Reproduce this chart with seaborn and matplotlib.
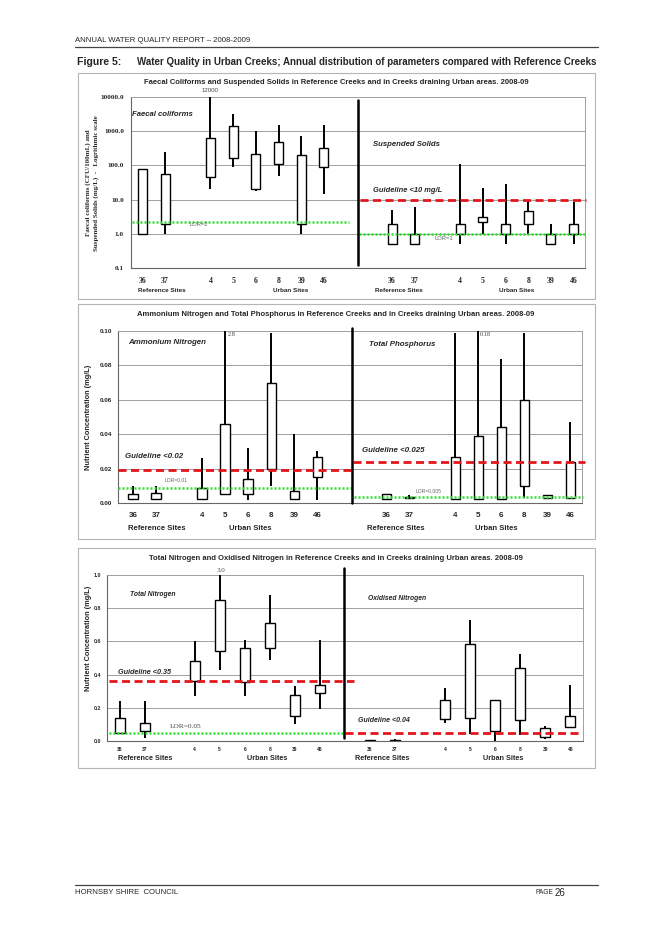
#!/usr/bin/env python3
"""Figure 5: annual distribution of water quality parameters, urban vs reference creeks 2008-09."""

import matplotlib
matplotlib.use("Agg")
import matplotlib.pyplot as plt
import numpy as np
import seaborn as sns
from matplotlib.patches import Rectangle
from matplotlib.lines import Line2D

W, H = 659, 931

SITES = ["36", "37", "4", "5", "6", "8", "39", "46"]
GROUPS = ["Reference Sites", "Urban Sites"]

# each parameter: whisker low, box bottom, box top, whisker high (per site)
FC_LOW = [1.0, 1.0, 20, 90, 18, 50, 1.0, 15]
FC_Q1 = [1.0, 2.0, 46, 170, 20, 110, 2.0, 92]
FC_Q3 = [80, 55, 620, 1400, 215, 490, 205, 330]
FC_HIGH = [80, 250, 12000, 3200, 1000, 1550, 720, 1550]

SS_LOW = [0.5, 0.5, 0.5, 1.0, 0.5, 1.0, 0.5, 0.5]
SS_Q1 = [0.5, 0.5, 1.0, 2.2, 1.0, 2.0, 0.5, 1.0]
SS_Q3 = [2.0, 1.0, 2.0, 3.0, 2.0, 4.8, 1.0, 2.0]
SS_HIGH = [5.0, 6.0, 110, 22, 28, 10, 2.0, 8.5]

NH_LOW = [0.0025, 0.0025, 0.0025, 0.005, 0.002, 0.010, 0.0025, 0.002]
NH_Q1 = [0.0025, 0.0025, 0.0025, 0.005, 0.005, 0.020, 0.0025, 0.015]
NH_Q3 = [0.005, 0.006, 0.009, 0.046, 0.014, 0.070, 0.0072, 0.027]
NH_HIGH = [0.010, 0.010, 0.026, 2.8, 0.032, 0.099, 0.040, 0.030]

TP_LOW = [0.0025, 0.003, 0.0025, 0.0025, 0.0025, 0.003, 0.003, 0.003]
TP_Q1 = [0.0025, 0.003, 0.0025, 0.0025, 0.0025, 0.010, 0.003, 0.003]
TP_Q3 = [0.005, 0.0035, 0.027, 0.039, 0.044, 0.060, 0.0045, 0.024]
TP_HIGH = [0.005, 0.0045, 0.099, 0.18, 0.084, 0.099, 0.0045, 0.047]

TN_LOW = [0.05, 0.02, 0.27, 0.43, 0.27, 0.49, 0.10, 0.19]
TN_Q1 = [0.05, 0.06, 0.36, 0.54, 0.355, 0.56, 0.15, 0.29]
TN_Q3 = [0.14, 0.11, 0.48, 0.85, 0.56, 0.71, 0.28, 0.34]
TN_HIGH = [0.24, 0.24, 0.60, 3.0, 0.61, 0.88, 0.33, 0.61]

NOX_LOW = [0.002, 0.002, 0.11, 0.04, 0.0, 0.035, 0.012, 0.08]
NOX_Q1 = [0.002, 0.002, 0.13, 0.14, 0.058, 0.124, 0.026, 0.086]
NOX_Q3 = [0.006, 0.005, 0.25, 0.586, 0.245, 0.438, 0.080, 0.151]
NOX_HIGH = [0.006, 0.012, 0.32, 0.73, 0.245, 0.524, 0.09, 0.34]

# guideline / LOR levels as drawn
FC_LOR = 2.2
SS_GUIDE, SS_LOR = 10.0, 1.0
NH_GUIDE, NH_LOR = 0.019, 0.009
TP_GUIDE, TP_LOR = 0.024, 0.0035
TN_GUIDE, TN_LOR = 0.36, 0.05
NOX_GUIDE = 0.05

LEFT_SLOTS = [0, 1, 3, 4, 5, 6, 7, 8]

SANS = ["Liberation Sans", "DejaVu Sans"]
SERIF = ["Liberation Serif", "DejaVu Serif"]
RED = "#e3161d"
GREEN = "#2fe02f"
GRID = "#a0a0a0"


def px_rect(left, top, right, bottom):
    return [left / W, 1 - bottom / H, (right - left) / W, (bottom - top) / H]


def put(fig, x, y, s, **kw):
    kw.setdefault("va", "center")
    fig.text(x / W, 1 - y / H, s, **kw)


def draw_boxes(ax, pos, low, q1, q3, high):
    ax.vlines(pos, low, high, colors="black", linewidth=1.4, zorder=3)
    ax.bar(pos, np.subtract(q3, q1), bottom=q1, width=0.4, color="white",
           edgecolor="black", linewidth=1.0, zorder=4)


def guide(ax, y, x0, x1, red=True):
    if red:
        ax.hlines(y, x0, x1, colors=RED, linewidth=2.0, linestyles=(0, (2.9, 1.6)),
                  zorder=6, clip_on=False)
    else:
        ax.hlines(y, x0, x1, colors=GREEN, linewidth=1.8, linestyles=(0, (0.8, 0.8)),
                  zorder=6, clip_on=False)


def setup_axes(ax, nslots, xlim, right_off, tick_font, tick_size, tick_pad):
    labels = [""] * nslots
    for s, lab in zip(LEFT_SLOTS, SITES):
        labels[s] = lab
        labels[s + right_off] = lab
    ax.set_xlim(xlim)
    ax.set_xticks(range(nslots))
    ax.set_xticklabels(labels, fontfamily=tick_font, fontsize=tick_size, fontweight="bold")
    ax.set_xticks(np.arange(nslots + 1) - 0.5, minor=True)
    ax.tick_params(axis="x", which="major", length=0, pad=tick_pad)
    ax.tick_params(axis="x", which="minor", length=2.5, width=0.6, color="#555555",
                   direction="out")
    ax.grid(False)
    ax.yaxis.grid(True, color=GRID, linewidth=0.7)
    ax.set_axisbelow(True)
    for side in ("top", "right"):
        ax.spines[side].set_color(GRID)
        ax.spines[side].set_linewidth(0.7)
    for side in ("left", "bottom"):
        ax.spines[side].set_color("#666666")
        ax.spines[side].set_linewidth(0.8)


def group_labels(ax, xs, offset_px, size):
    for x, lab in zip(xs, GROUPS + GROUPS):
        ax.annotate(lab, xy=(x, 0), xycoords=ax.get_xaxis_transform(),
                    xytext=(0, -offset_px * 0.72), textcoords="offset points",
                    ha="center", va="center", fontsize=size, fontweight="bold",
                    fontfamily=SANS)


def main():
    sns.set_theme(style="white")
    plt.rcParams["font.family"] = SANS
    fig = plt.figure(figsize=(W / 100, H / 100), dpi=100)
    fig.patch.set_facecolor("white")

    # page furniture
    put(fig, 75, 40, "ANNUAL WATER QUALITY REPORT \u2013 2008-2009", fontsize=5.6)
    fig.add_artist(Line2D([75 / W, 598 / W], [1 - 47 / H] * 2, color="#444444", lw=0.9))
    put(fig, 77, 62, "Figure 5:", fontsize=7.6, fontweight="bold")
    put(fig, 596, 62, "Water Quality in Urban Creeks; Annual distribution of parameters "
        "compared with Reference Creeks", fontsize=7.0, fontweight="bold", ha="right")
    fig.add_artist(Line2D([75 / W, 598 / W], [1 - 885 / H] * 2, color="#444444", lw=0.9))
    put(fig, 75, 893, "HORNSBY SHIRE  COUNCIL", fontsize=5.6)
    put(fig, 535, 893, "PAGE", fontsize=4.8)
    put(fig, 555, 893, "26", fontsize=7.0)

    for top, bottom in ((73, 299), (304, 539), (548, 768)):
        fig.add_artist(Rectangle((78 / W, 1 - bottom / H), (595 - 78) / W,
                                 (bottom - top) / H, transform=fig.transFigure,
                                 fill=False, edgecolor="#b5b5b5", linewidth=0.8))

    # ---------------- panel 1: faecal coliforms / suspended solids ----------------
    put(fig, 336, 82, "Faecal Coliforms and Suspended Solids in Reference Creeks and in "
        "Creeks draining Urban areas. 2008-09", fontsize=5.5, fontweight="bold", ha="center")
    ax = fig.add_axes(px_rect(131, 97, 585, 268))
    ax.set_yscale("log")
    ax.set_ylim(0.1, 10000)
    setup_axes(ax, 20, (-0.45, 19.5), 11, SERIF, 5.6, 6.5)
    dec = [0.1, 1, 10, 100, 1000, 10000]
    ax.set_yticks(dec)
    ax.set_yticklabels([f"{v:.1f}" for v in dec], fontfamily=SERIF, fontweight="bold",
                       fontsize=5.2)
    ax.yaxis.set_minor_locator(matplotlib.ticker.NullLocator())
    ax.tick_params(axis="y", length=2, pad=3)
    draw_boxes(ax, LEFT_SLOTS, FC_LOW, FC_Q1, FC_Q3, FC_HIGH)
    draw_boxes(ax, [s + 11 for s in LEFT_SLOTS], SS_LOW, SS_Q1, SS_Q3, SS_HIGH)
    guide(ax, FC_LOR, -0.45, 9.1, red=False)
    guide(ax, SS_LOR, 9.55, 19.5, red=False)
    guide(ax, SS_GUIDE, 9.6, 19.55)
    ax.axvline(9.5, 0.02, 0.98, color="black", lw=1.8, zorder=7)
    group_labels(ax, [0.88, 6.55, 11.3, 16.5], 23, 4.6)
    put(fig, 132, 114, "Faecal coliforms", fontsize=5.6, fontweight="bold", style="italic")
    put(fig, 373, 144, "Suspended Solids", fontsize=5.6, fontweight="bold", style="italic")
    put(fig, 373, 191, "Guideline <10 mg/L", fontsize=5.4, fontweight="bold", style="italic")
    put(fig, 190, 225, "LOR=2", fontsize=4.2, color="#666666")
    put(fig, 434, 238, "LOR=1", fontsize=4.2, color="#666666")
    put(fig, 210, 90, "12000", fontsize=4.4, color="#444444", ha="center")
    put(fig, 92, 183, "Faecal coliforms (CFU/100mL) and\nSuspended Solids (mg/L)  -   "
        "Logrithmic scale", fontsize=5.0, fontweight="bold", fontfamily=SERIF,
        rotation=90, ha="center", linespacing=1.4)

    # ---------------- panel 2: ammonium nitrogen / total phosphorus ----------------
    put(fig, 336, 314, "Ammonium Nitrogen and Total Phosphorus in Reference Creeks and in "
        "Creeks draining Urban areas. 2008-09", fontsize=5.5, fontweight="bold", ha="center")
    ax = fig.add_axes(px_rect(118, 331, 582, 503))
    ax.set_ylim(0, 0.10)
    setup_axes(ax, 20, (-0.65, 19.5), 11, SANS, 5.8, 6.5)
    yt = [0.0, 0.02, 0.04, 0.06, 0.08, 0.10]
    ax.set_yticks(yt)
    ax.set_yticklabels([f"{v:.2f}" for v in yt], fontweight="bold", fontsize=4.6)
    ax.tick_params(axis="y", length=0, pad=4)
    draw_boxes(ax, LEFT_SLOTS, NH_LOW, NH_Q1, NH_Q3, NH_HIGH)
    draw_boxes(ax, [s + 11 for s in LEFT_SLOTS], TP_LOW, TP_Q1, TP_Q3, TP_HIGH)
    guide(ax, NH_LOR, -0.65, 9.6, red=False)
    guide(ax, TP_LOR, 9.6, 19.55, red=False)
    guide(ax, NH_GUIDE, -0.65, 9.65)
    guide(ax, TP_GUIDE, 9.55, 19.65)
    ax.axvline(9.5, 0.0, 1.02, color="black", lw=1.8, zorder=7, clip_on=False)
    group_labels(ax, [1.04, 5.1, 11.4, 15.8], 26, 5.5)
    put(fig, 128, 342, "Ammonium Nitrogen", fontsize=5.7, fontweight="bold", style="italic")
    put(fig, 369, 345, "Total Phosphorus", fontsize=5.7, fontweight="bold", style="italic")
    put(fig, 125, 457, "Guideline <0.02", fontsize=5.7, fontweight="bold", style="italic")
    put(fig, 362, 450, "Guideline <0.025", fontsize=5.7, fontweight="bold", style="italic")
    put(fig, 165, 480, "LOR=0.01", fontsize=3.6, color="#666666")
    put(fig, 416, 491, "LOR=0.005", fontsize=3.6, color="#666666")
    put(fig, 228, 335, "2.8", fontsize=4.6, fontfamily=SERIF, color="#444444")
    put(fig, 480, 335, "0.18", fontsize=4.6, fontfamily=SERIF, color="#444444")
    put(fig, 88, 417, "Nutrient Concentration (mg/L)", fontsize=5.3, fontweight="bold",
        rotation=90, ha="center")

    # ---------------- panel 3: total nitrogen / oxidised nitrogen ----------------
    put(fig, 336, 558, "Total Nitrogen and Oxidised Nitrogen in Reference Creeks and in "
        "Creeks draining Urban areas. 2008-09", fontsize=5.5, fontweight="bold", ha="center")
    ax = fig.add_axes(px_rect(107, 575, 583, 741))
    ax.set_ylim(0, 1.0)
    setup_axes(ax, 19, (-0.44, 18.5), 10, SANS, 3.6, 4)
    yt = [0.0, 0.2, 0.4, 0.6, 0.8, 1.0]
    ax.set_yticks(yt)
    ax.set_yticklabels([f"{v:.1f}" for v in yt], fontweight="bold", fontsize=3.8)
    ax.tick_params(axis="y", length=0, pad=4)
    draw_boxes(ax, LEFT_SLOTS, TN_LOW, TN_Q1, TN_Q3, TN_HIGH)
    draw_boxes(ax, [s + 10 for s in LEFT_SLOTS], NOX_LOW, NOX_Q1, NOX_Q3, NOX_HIGH)
    guide(ax, TN_LOR, -0.44, 8.95, red=False)
    guide(ax, TN_GUIDE, -0.44, 9.35)
    guide(ax, NOX_GUIDE, 9.0, 18.4)
    ax.axvline(8.96, 0.02, 1.04, color="black", lw=1.8, zorder=7, clip_on=False)
    group_labels(ax, [1.04, 5.9, 10.5, 15.3], 18, 5.2)
    put(fig, 130, 594, "Total Nitrogen", fontsize=4.9, fontweight="bold", style="italic")
    put(fig, 368, 599, "Oxidised Nitrogen", fontsize=4.9, fontweight="bold", style="italic")
    put(fig, 118, 672, "Guideline <0.35", fontsize=5.2, fontweight="bold", style="italic")
    put(fig, 358, 720, "Guideline <0.04", fontsize=5.0, fontweight="bold", style="italic")
    put(fig, 170, 727, "LOR=0.05", fontsize=5.3, fontfamily=SERIF, color="#444444")
    put(fig, 221, 570, "3.0", fontsize=5.0, fontfamily=SERIF, color="#444444",
        ha="center")
    put(fig, 88, 638, "Nutrient Concentration (mg/L)", fontsize=5.3, fontweight="bold",
        rotation=90, ha="center")

    fig.savefig("out.png", dpi=100, facecolor="white")
    plt.close(fig)


if __name__ == "__main__":
    main()
